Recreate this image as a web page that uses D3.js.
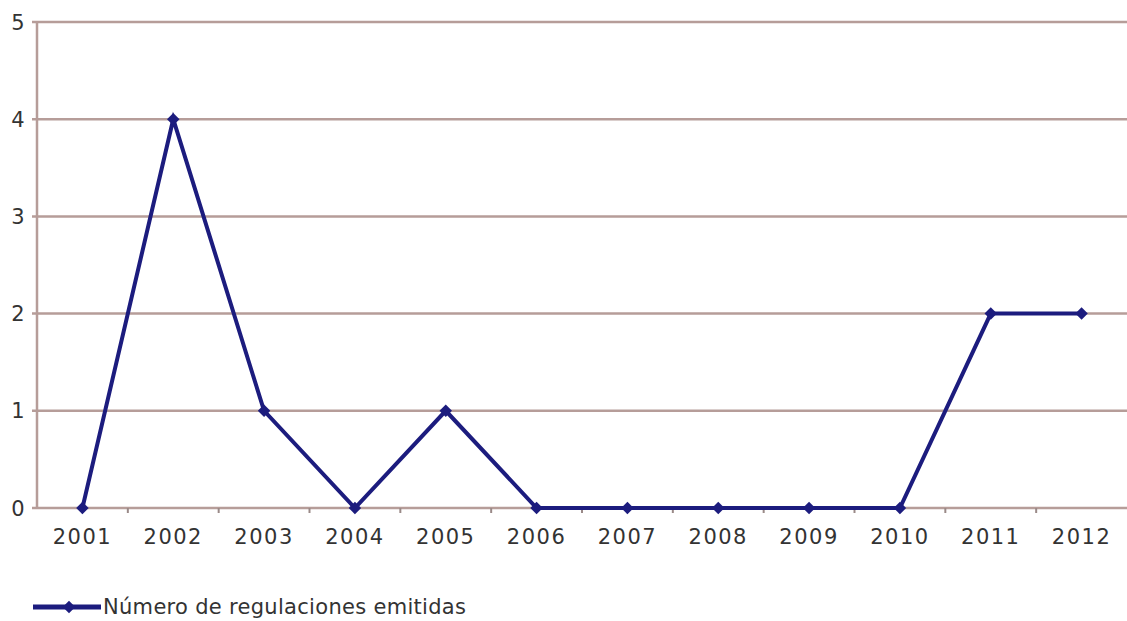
<!DOCTYPE html>
<html lang="es">
<head>
<meta charset="UTF-8">
<title>Número de regulaciones emitidas</title>
<style>
    body, html {
        margin: 0;
        padding: 0;
        background: #ffffff;
        overflow: hidden;
    }
    svg {
        font-family: "DejaVu Sans", Verdana, sans-serif;
    }
    .tick-label {
        fill: #333333;
        font-size: 21px;
        letter-spacing: 1.5px;
    }
    .legend-text {
        fill: #333333;
        font-size: 21px;
        letter-spacing: 0.3px;
    }
</style>
</head>
<body>
<div id="chart"></div>
<script src="https://d3js.org/d3.v7.min.js"></script>
<script>
    // data
    const years = ["2001", "2002", "2003", "2004", "2005", "2006", "2007", "2008", "2009", "2010", "2011", "2012"];
    const regulations = [0, 4, 1, 0, 1, 0, 0, 0, 0, 0, 2, 2];
    const yTicks = [0, 1, 2, 3, 4, 5];
    const seriesName = "Número de regulaciones emitidas";

    const width = 1127, height = 621;
    const margin = { top: 22, right: 0, bottom: 113, left: 37 };

    const gridColor = "#b69d99";
    const lineColor = "#1c1c7e";

    const svg = d3.select("#chart").append("svg")
        .attr("width", width)
        .attr("height", height);

    const x = d3.scaleBand()
        .domain(years)
        .range([margin.left, width - margin.right]);

    const y = d3.scaleLinear()
        .domain([0, 5])
        .range([height - margin.bottom, margin.top]);

    // horizontal gridlines
    svg.append("g").selectAll("line")
        .data(yTicks)
        .enter().append("line")
        .attr("x1", margin.left - 5)
        .attr("x2", width - margin.right)
        .attr("y1", d => y(d))
        .attr("y2", d => y(d))
        .attr("stroke", gridColor)
        .attr("stroke-width", 2.5);

    // y axis line
    svg.append("line")
        .attr("x1", margin.left).attr("x2", margin.left)
        .attr("y1", y(5)).attr("y2", y(0))
        .attr("stroke", gridColor)
        .attr("stroke-width", 2.5);

    // y labels
    svg.append("g").selectAll("text")
        .data(yTicks)
        .enter().append("text")
        .attr("class", "tick-label")
        .attr("x", margin.left - 11)
        .attr("y", d => y(d))
        .attr("dy", "0.36em")
        .attr("text-anchor", "end")
        .text(d => d);

    // x tick marks at category boundaries
    svg.append("g").selectAll("line")
        .data(years.slice(1))
        .enter().append("line")
        .attr("x1", d => x(d))
        .attr("x2", d => x(d))
        .attr("y1", y(0))
        .attr("y2", y(0) + 5)
        .attr("stroke", "#9a8a88")
        .attr("stroke-width", 2);

    // x labels
    svg.append("g").selectAll("text")
        .data(years)
        .enter().append("text")
        .attr("class", "tick-label")
        .attr("x", d => x(d) + x.bandwidth() / 2)
        .attr("y", y(0) + 36)
        .attr("text-anchor", "middle")
        .text(d => d);

    // series line
    const line = d3.line()
        .x((d, i) => x(years[i]) + x.bandwidth() / 2)
        .y(d => y(d));

    svg.append("path")
        .datum(regulations)
        .attr("d", line)
        .attr("fill", "none")
        .attr("stroke", lineColor)
        .attr("stroke-width", 4)
        .attr("stroke-linejoin", "miter");

    // diamond = square turned 45 degrees
    const marker = d3.symbol().type(d3.symbolSquare).size(78);

    svg.append("g").selectAll("path")
        .data(regulations)
        .enter().append("path")
        .attr("d", marker)
        .attr("transform", (d, i) => `translate(${x(years[i]) + x.bandwidth() / 2},${y(d)}) rotate(45)`)
        .attr("fill", lineColor);

    // legend
    const legend = svg.append("g").attr("transform", "translate(33, 607)");
    legend.append("line")
        .attr("x1", 0).attr("x2", 68)
        .attr("y1", 0).attr("y2", 0)
        .attr("stroke", lineColor)
        .attr("stroke-width", 5);
    legend.append("path")
        .attr("d", marker)
        .attr("transform", "translate(36,0) rotate(45)")
        .attr("fill", lineColor);
    legend.append("text")
        .attr("class", "legend-text")
        .attr("x", 70)
        .attr("y", 0)
        .attr("dy", "0.32em")
        .text(seriesName);
</script>
</body>
</html>
